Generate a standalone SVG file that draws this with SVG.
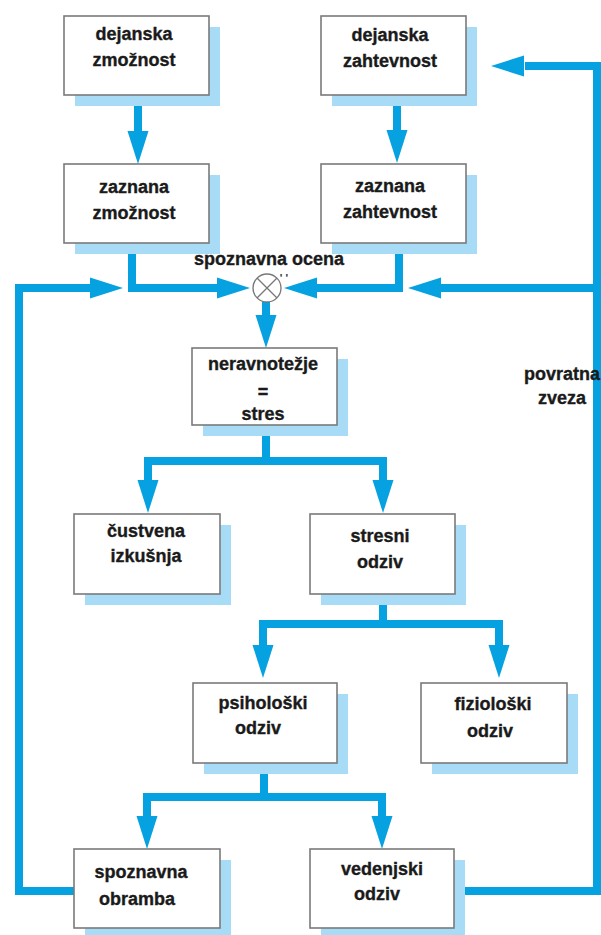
<svg xmlns="http://www.w3.org/2000/svg" width="601" height="935" viewBox="0 0 601 935">
<style>
.bg{fill:#ffffff}
.sh{fill:#a8dcf6}
.bx{fill:#ffffff;stroke:#7a7a7a;stroke-width:1.6}
.ln{fill:none;stroke:#06a1e0;stroke-width:8;stroke-linejoin:miter;stroke-linecap:butt}
.ah{fill:#06a1e0}
.t{font-family:"Liberation Sans",Arial,sans-serif;font-weight:bold;font-size:18px;fill:#1a1a1a;stroke:#1a1a1a;stroke-width:0.35;text-anchor:middle}
.cx{fill:#ffffff;stroke:#777777;stroke-width:1.3}
</style>
<defs>
<polygon id="ah" points="-10.5,-33 10.5,-33 0,0"/>
</defs>
<rect class="bg" x="0" y="0" width="601" height="935"/>

<g id="connectors">
<path class="ln" d="M138,100 V132"/>
<use class="ah" href="#ah" transform="translate(138,164)"/>
<path class="ln" d="M397,100 V130"/>
<use class="ah" href="#ah" transform="translate(397,163)"/>
<path class="ln" d="M132,243 V288 H220"/>
<use class="ah" href="#ah" transform="translate(250,288) rotate(-90)"/>
<path class="ln" d="M399,243 V288 H315"/>
<use class="ah" href="#ah" transform="translate(284,288) rotate(90)"/>
<path class="ln" d="M266,300 V317"/>
<use class="ah" href="#ah" transform="translate(266,348)"/>
<path class="ln" d="M266,425 V461"/>
<path class="ln" d="M148,482 V461 H383 V482"/>
<use class="ah" href="#ah" transform="translate(148,513)"/>
<use class="ah" href="#ah" transform="translate(383,513)"/>
<path class="ln" d="M383,594 V624"/>
<path class="ln" d="M263,647 V624 H499 V647"/>
<use class="ah" href="#ah" transform="translate(263,678)"/>
<use class="ah" href="#ah" transform="translate(499,678)"/>
<path class="ln" d="M264,763 V797"/>
<path class="ln" d="M147,818 V797 H382 V818"/>
<use class="ah" href="#ah" transform="translate(147,849)"/>
<use class="ah" href="#ah" transform="translate(382,849)"/>
<path class="ln" d="M74,891 H19 V288 H92"/>
<use class="ah" href="#ah" transform="translate(123,288) rotate(-90)"/>
<path class="ln" d="M454,891 H597 V66 H525"/>
<use class="ah" href="#ah" transform="translate(491,66) rotate(90)"/>
<path class="ln" d="M597,288 H440"/>
<use class="ah" href="#ah" transform="translate(408,288) rotate(90)"/>
</g>

<g id="comparator">
<circle class="cx" cx="267" cy="288" r="14"/>
<path d="M257,278 L277,298 M277,278 L257,298" stroke="#777777" stroke-width="1.3" fill="none"/>
<text class="t" x="269" y="265">spoznavna ocena</text>
<text x="284" y="282" font-family="'Liberation Sans',Arial,sans-serif" font-size="11" font-weight="bold" fill="#333333" text-anchor="middle">' '</text>
</g>

<g id="dejanska-zmoznost">
<rect class="sh" x="75" y="27" width="145" height="79"/>
<rect class="bx" x="64" y="16" width="145" height="79"/>
<text class="t" x="134" y="40">dejanska</text>
<text class="t" x="134" y="66">zmožnost</text>
</g>

<g id="dejanska-zahtevnost">
<rect class="sh" x="332" y="27" width="145" height="79"/>
<rect class="bx" x="321" y="16" width="145" height="79"/>
<text class="t" x="390" y="41">dejanska</text>
<text class="t" x="390" y="67">zahtevnost</text>
</g>

<g id="zaznana-zmoznost">
<rect class="sh" x="75" y="175" width="145" height="79"/>
<rect class="bx" x="64" y="164" width="145" height="79"/>
<text class="t" x="134" y="193">zaznana</text>
<text class="t" x="134" y="219">zmožnost</text>
</g>

<g id="zaznana-zahtevnost">
<rect class="sh" x="332" y="175" width="145" height="79"/>
<rect class="bx" x="321" y="164" width="145" height="79"/>
<text class="t" x="390" y="192">zaznana</text>
<text class="t" x="390" y="218">zahtevnost</text>
</g>

<g id="neravnotezje">
<rect class="sh" x="203" y="359" width="145" height="77"/>
<rect class="bx" x="192" y="348" width="145" height="77"/>
<text class="t" x="263" y="370">neravnotežje</text>
<text class="t" x="263" y="398">=</text>
<text class="t" x="263" y="420">stres</text>
</g>

<g id="custvena-izkusnja">
<rect class="sh" x="85" y="525" width="146" height="80"/>
<rect class="bx" x="74" y="514" width="146" height="80"/>
<text class="t" x="146" y="537">čustvena</text>
<text class="t" x="146" y="562">izkušnja</text>
</g>

<g id="stresni-odziv">
<rect class="sh" x="321" y="525" width="145" height="80"/>
<rect class="bx" x="310" y="514" width="145" height="80"/>
<text class="t" x="380" y="542">stresni</text>
<text class="t" x="380" y="568">odziv</text>
</g>

<g id="psiholoski-odziv">
<rect class="sh" x="204" y="694" width="144" height="80"/>
<rect class="bx" x="193" y="683" width="144" height="80"/>
<text class="t" x="263" y="709">psihološki</text>
<text class="t" x="258" y="734">odziv</text>
</g>

<g id="fizioloski-odziv">
<rect class="sh" x="432" y="694" width="146" height="80"/>
<rect class="bx" x="421" y="683" width="146" height="80"/>
<text class="t" x="493" y="710">fiziološki</text>
<text class="t" x="490" y="737">odziv</text>
</g>

<g id="spoznavna-obramba">
<rect class="sh" x="85" y="860" width="146" height="79"/>
<rect class="bx" x="74" y="849" width="146" height="79"/>
<text class="t" x="141" y="878">spoznavna</text>
<text class="t" x="137" y="905">obramba</text>
</g>

<g id="vedenjski-odziv">
<rect class="sh" x="321" y="860" width="144" height="79"/>
<rect class="bx" x="310" y="849" width="144" height="79"/>
<text class="t" x="382" y="875">vedenjski</text>
<text class="t" x="377" y="900">odziv</text>
</g>

<g id="povratna-zveza">
<text class="t" x="562" y="380">povratna</text>
<text class="t" x="562" y="404">zveza</text>
</g>
</svg>
